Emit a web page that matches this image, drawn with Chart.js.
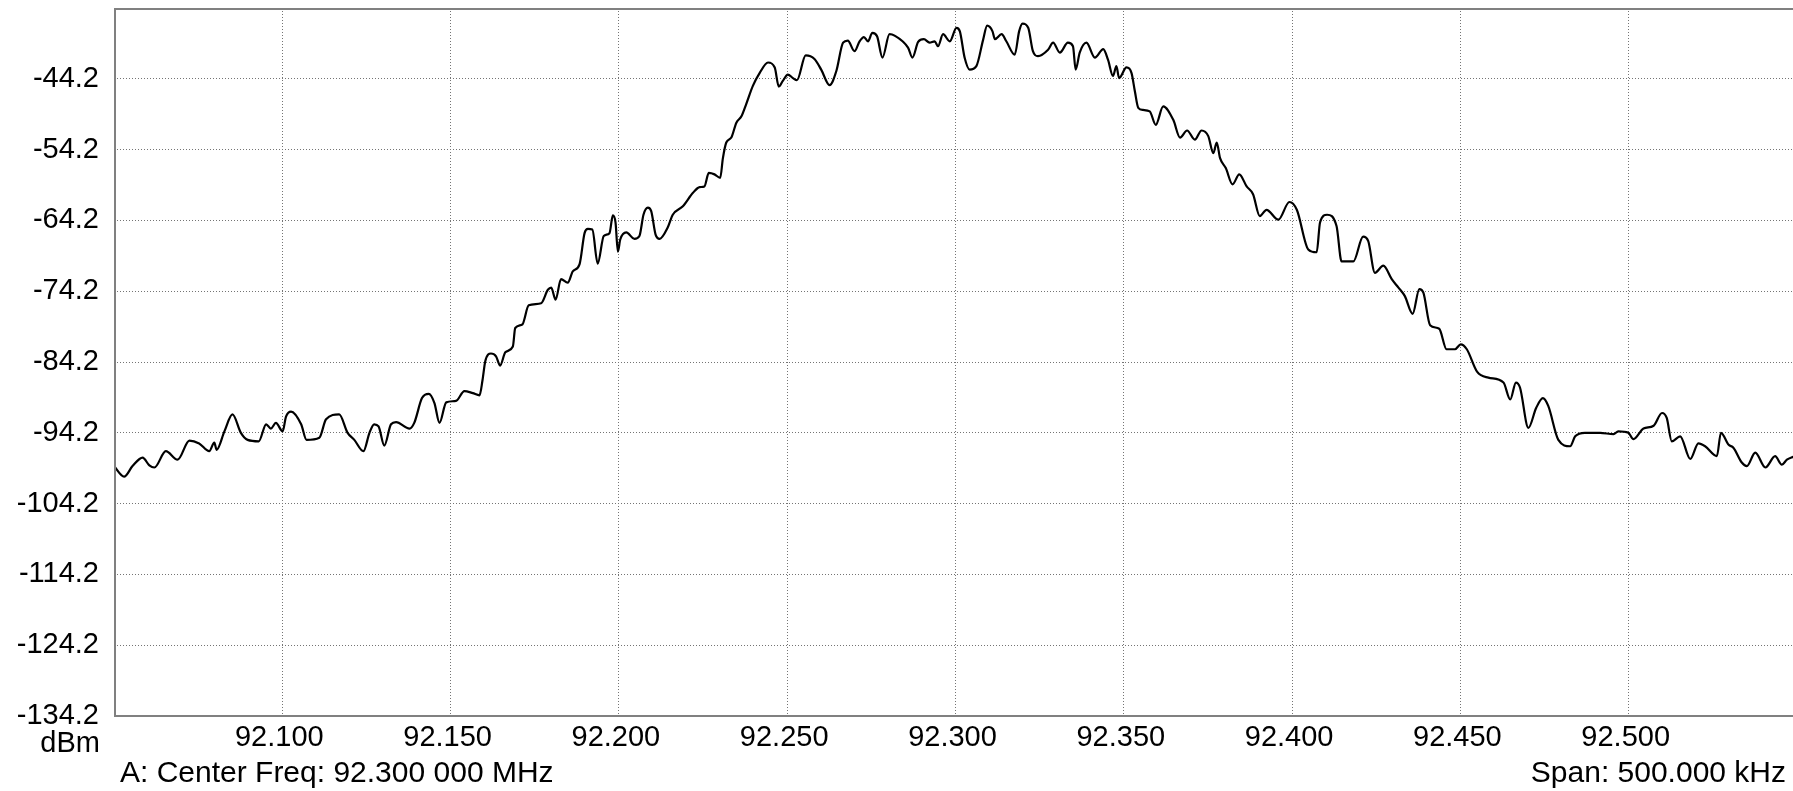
<!DOCTYPE html>
<html>
<head>
<meta charset="utf-8">
<title>Spectrum trace</title>
<script src="https://cdn.jsdelivr.net/npm/chart.js@4/dist/chart.umd.min.js"></script>
<style>
  html, body { margin: 0; padding: 0; background: #fff; overflow: hidden; }
  #wrap { width: 1800px; height: 791px; }
</style>
</head>
<body>
<div id="wrap"><canvas id="spec" width="1800" height="791"></canvas></div>
<script>
// Trace samples: frequency (MHz) and level (dBm)
const freqMHz = [
  92.0500, 92.0530, 92.0555, 92.0585, 92.0605, 92.0620, 92.0654, 92.0689, 92.0724, 92.0753,
  92.0783, 92.0798, 92.0805, 92.0828, 92.0852, 92.0877, 92.0897, 92.0930, 92.0952, 92.0966,
  92.0981, 92.1001, 92.1011, 92.1026, 92.1056, 92.1072, 92.1110, 92.1130, 92.1169, 92.1194,
  92.1214, 92.1241, 92.1259, 92.1273, 92.1286, 92.1303, 92.1323, 92.1338, 92.1378, 92.1392,
  92.1415, 92.1435, 92.1452, 92.1467, 92.1487, 92.1516, 92.1541, 92.1566, 92.1586, 92.1595,
  92.1603, 92.1620, 92.1635, 92.1647, 92.1663, 92.1685, 92.1692, 92.1713, 92.1732, 92.1769,
  92.1789, 92.1799, 92.1812, 92.1828, 92.1848, 92.1863, 92.1883, 92.1898, 92.1908, 92.1921,
  92.1937, 92.1955, 92.1972, 92.1982, 92.1990, 92.1997, 92.2004, 92.2022, 92.2046, 92.2061,
  92.2073, 92.2086, 92.2096, 92.2109, 92.2121, 92.2145, 92.2160, 92.2190, 92.2220, 92.2240,
  92.2254, 92.2267, 92.2284, 92.2301, 92.2309, 92.2319, 92.2334, 92.2349, 92.2364, 92.2378,
  92.2398, 92.2418, 92.2443, 92.2463, 92.2475, 92.2487, 92.2502, 92.2517, 92.2529, 92.2555,
  92.2581, 92.2601, 92.2626, 92.2646, 92.2666, 92.2680, 92.2700, 92.2715, 92.2728, 92.2740,
  92.2753, 92.2767, 92.2783, 92.2804, 92.2819, 92.2859, 92.2872, 92.2889, 92.2906, 92.2923,
  92.2938, 92.2948, 92.2963, 92.2983, 92.3003, 92.3013, 92.3027, 92.3042, 92.3062, 92.3082,
  92.3094, 92.3110, 92.3117, 92.3137, 92.3151, 92.3176, 92.3189, 92.3199, 92.3216, 92.3230,
  92.3245, 92.3275, 92.3290, 92.3310, 92.3334, 92.3349, 92.3357, 92.3369, 92.3389, 92.3414,
  92.3439, 92.3453, 92.3468, 92.3478, 92.3486, 92.3508, 92.3523, 92.3533, 92.3543, 92.3557,
  92.3577, 92.3595, 92.3617, 92.3647, 92.3667, 92.3688, 92.3711, 92.3731, 92.3751, 92.3766,
  92.3776, 92.3786, 92.3803, 92.3823, 92.3843, 92.3865, 92.3884, 92.3904, 92.3924, 92.3959,
  92.3992, 92.4014, 92.4048, 92.4073, 92.4083, 92.4104, 92.4132, 92.4147, 92.4182, 92.4211,
  92.4226, 92.4246, 92.4271, 92.4296, 92.4316, 92.4335, 92.4358, 92.4378, 92.4390, 92.4410,
  92.4437, 92.4459, 92.4484, 92.4501, 92.4519, 92.4550, 92.4583, 92.4628, 92.4648, 92.4665,
  92.4677, 92.4702, 92.4725, 92.4745, 92.4761, 92.4791, 92.4826, 92.4841, 92.4870, 92.4915,
  92.4955, 92.4969, 92.4999, 92.5014, 92.5044, 92.5074, 92.5099, 92.5113, 92.5128, 92.5153,
  92.5183, 92.5207, 92.5227, 92.5262, 92.5274, 92.5297, 92.5311, 92.5336, 92.5351, 92.5376,
  92.5406, 92.5435, 92.5455, 92.5470, 92.5489, 92.5500
];

const levelDbm = [
  -98.9, -100.4, -98.9, -97.7, -98.8, -99.1, -96.8, -98.0, -95.3, -95.7,
  -96.8, -95.6, -96.6, -94.0, -91.6, -94.2, -95.2, -95.4, -93.0, -93.6,
  -92.8, -94.0, -91.9, -91.2, -93.0, -95.2, -94.9, -92.3, -91.6, -94.2,
  -95.2, -96.8, -94.2, -93.0, -93.3, -96.0, -93.0, -92.7, -93.6, -92.8,
  -89.3, -88.7, -90.0, -92.8, -89.9, -89.7, -88.3, -88.6, -88.9, -86.7,
  -84.1, -83.0, -83.4, -84.7, -82.8, -82.0, -79.4, -78.9, -76.2, -75.9,
  -74.0, -73.7, -75.4, -72.5, -73.0, -71.4, -70.4, -66.0, -65.4, -65.5,
  -70.3, -66.4, -66.0, -63.5, -64.5, -68.6, -66.9, -65.9, -66.8, -66.4,
  -63.4, -62.4, -62.9, -66.2, -66.8, -65.2, -63.4, -62.2, -60.3, -59.5,
  -59.4, -57.5, -57.7, -58.2, -55.4, -53.2, -52.5, -50.4, -49.5, -47.8,
  -45.2, -43.4, -41.9, -42.6, -45.3, -44.5, -43.6, -44.1, -44.4, -40.9,
  -41.4, -42.9, -45.1, -43.1, -39.1, -38.8, -40.3, -38.9, -38.3, -38.9,
  -37.7, -38.2, -41.2, -37.9, -38.1, -39.8, -41.2, -39.0, -38.6, -39.1,
  -38.9, -39.6, -37.9, -38.9, -37.0, -37.5, -41.2, -42.9, -42.4, -38.7,
  -36.7, -37.5, -38.6, -37.9, -38.9, -40.8, -37.5, -36.4, -37.0, -40.3,
  -41.0, -40.1, -39.1, -40.5, -39.1, -39.6, -42.9, -40.5, -39.1, -41.2,
  -40.0, -41.5, -43.8, -42.4, -44.1, -42.6, -43.4, -46.0, -48.3, -48.6,
  -48.8, -50.7, -48.1, -50.0, -52.5, -51.5, -52.8, -51.5, -52.3, -54.7,
  -53.2, -55.4, -56.8, -59.1, -57.7, -59.4, -60.5, -63.6, -62.7, -64.1,
  -61.6, -62.7, -68.3, -68.7, -64.5, -63.4, -65.0, -70.0, -70.0, -66.5,
  -67.1, -71.6, -70.6, -72.5, -73.7, -74.9, -77.4, -73.9, -74.4, -79.0,
  -79.5, -82.4, -82.4, -81.7, -82.4, -85.6, -86.4, -87.1, -89.5, -87.1,
  -87.8, -93.5, -90.7, -89.3, -90.4, -95.2, -96.1, -94.7, -94.2, -94.2,
  -94.4, -94.0, -94.2, -95.1, -93.6, -93.2, -91.4, -92.1, -95.4, -94.7,
  -97.9, -95.7, -96.1, -97.5, -94.2, -95.9, -96.3, -98.4, -98.9, -97.0,
  -99.1, -97.5, -98.7, -98.0, -97.6, -97.4
];

// Axis ranges and labelled ticks
const freqStart = 92.050;
const freqStop = 92.550;
const freqTicks = [92.100, 92.150, 92.200, 92.250, 92.300, 92.350, 92.400, 92.450, 92.500];
const refTop = -34.2;
const refBottom = -134.2;
const levelTicks = [-44.2, -54.2, -64.2, -74.2, -84.2, -94.2, -104.2, -114.2, -124.2, -134.2];

// Annotation strings
const unitLabel = 'dBm';
const centerLabel = 'A: Center Freq: 92.300 000 MHz';
const spanLabel = 'Span: 500.000 kHz';

const FONT = '"Liberation Sans", Arial, sans-serif';
const TICK_FONT_SIZE = 29;
const NOTE_FONT_SIZE = 30;
const GRID_COLOR = '#747474';

const tracePoints = freqMHz.map((f, i) => ({ x: f, y: levelDbm[i] }));

// Frame around the plot and the footer annotations
const frameAndNotes = {
  id: 'frameAndNotes',
  afterDatasetsDraw(chart) {
    const { ctx, chartArea: a } = chart;
    ctx.save();
    ctx.strokeStyle = '#808080';
    ctx.lineWidth = 2;
    ctx.strokeRect(a.left + 1, a.top + 1, a.right - a.left, a.bottom - a.top - 1);
    ctx.restore();
  },
  afterDraw(chart) {
    const { ctx } = chart;
    ctx.save();
    ctx.fillStyle = '#000';
    ctx.textBaseline = 'alphabetic';
    ctx.font = `${TICK_FONT_SIZE}px ${FONT}`;
    ctx.textAlign = 'right';
    ctx.fillText(unitLabel, 100, 752);
    ctx.font = `${NOTE_FONT_SIZE}px ${FONT}`;
    ctx.textAlign = 'left';
    ctx.fillText(centerLabel, 120, 782);
    ctx.textAlign = 'right';
    ctx.fillText(spanLabel, 1786, 782);
    ctx.restore();
  }
};

new Chart(document.getElementById('spec'), {
  type: 'line',
  data: {
    datasets: [{
      data: tracePoints,
      borderColor: '#000',
      borderWidth: 2.2,
      pointRadius: 0,
      cubicInterpolationMode: 'monotone',
      fill: false
    }]
  },
  options: {
    responsive: false,
    animation: false,
    events: [],
    layout: { padding: { top: 8, right: 3, left: 0, bottom: 0 } },
    plugins: { legend: { display: false }, tooltip: { enabled: false } },
    scales: {
      x: {
        type: 'linear',
        min: freqStart,
        max: freqStop,
        afterBuildTicks: s => { s.ticks = freqTicks.map(v => ({ value: v })); },
        afterFit: s => { s.height = 75; s.paddingLeft = 0; s.paddingRight = 0; },
        grid: { color: GRID_COLOR, lineWidth: 1, drawTicks: false },
        border: { display: false, dash: [1, 2] },
        ticks: {
          autoSkip: false,
          maxRotation: 0,
          padding: 5,
          labelOffset: -3,
          color: '#000',
          font: { family: FONT, size: TICK_FONT_SIZE },
          callback: v => Number(v).toFixed(3)
        }
      },
      y: {
        type: 'linear',
        min: refBottom,
        max: refTop,
        afterBuildTicks: s => { s.ticks = levelTicks.map(v => ({ value: v })); },
        afterFit: s => { s.width = 114; s.paddingTop = 0; s.paddingBottom = 0; },
        grid: { color: GRID_COLOR, lineWidth: 1, drawTicks: false },
        border: { display: false, dash: [1, 2] },
        ticks: {
          autoSkip: false,
          padding: 15,
          color: '#000',
          font: { family: FONT, size: TICK_FONT_SIZE },
          callback: v => Number(v).toFixed(1)
        }
      }
    }
  },
  plugins: [frameAndNotes]
});
</script>
</body>
</html>
